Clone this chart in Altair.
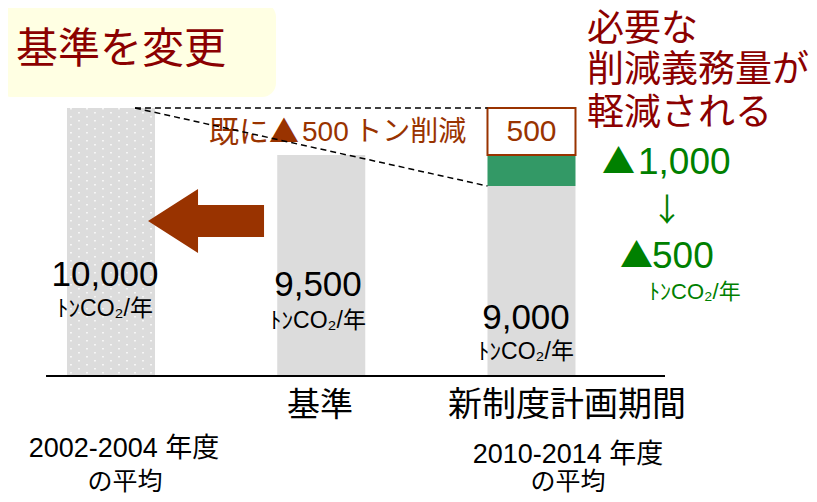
import altair as alt
import pandas as pd

# ---------------- data ----------------
categories = ["2002-2004 年度の平均", "基準", "新制度計画期間"]
cat_index = [0, 1, 2]
bar_values = [10000, 9500, 9000]
value_labels = ["10,000", "9,500", "9,000"]
unit_label = "ﾄﾝCO₂/年"
green_segment = [9000, 9500]     # 軽減される量
box_segment = [9500, 10000]      # 既に削減した量
box_label = "500"
cut_label = ["既に▲", "500\u2009トン削減"]
required_old = ["▲", "1,000"]
required_new = ["▲", "500"]
title_text = "基準を変更"
note_lines = ["必要な", "削減義務量が", "軽減される"]
bottom_labels = ["基準", "新制度計画期間"]
period_labels = ["2002-2004 年度", "2010-2014 年度"]
avg_label = "の平均"

# ---------------- style / layout ----------------
W, H = 801, 486
SANS = "Liberation Sans, Noto Sans CJK JP, sans-serif"
CJK = "Noto Sans CJK JP, sans-serif"
GRAY = "#DCDCDC"
BROWN = "#993300"
DARKRED = "#8B0000"
GREEN = "#008000"
HALF = 0.2093

xscale = alt.Scale(domain=[-0.4899, 3.3199], range=[0, W], nice=False, zero=False)
yscale = alt.Scale(domain=[0, 9000, 9500, 10000], range=[368, 178, 147, 100],
                   nice=False, zero=False)

def X(f):
    return alt.X(f, scale=xscale, axis=None)

def Y(f):
    return alt.Y(f, scale=yscale, axis=None)

def txt(s, x, y, size, color="black", align="center", font=SANS, weight="normal"):
    return alt.Chart(pd.DataFrame({"t": [s]})).mark_text(
        fontSize=size, color=color, align=align, baseline="middle",
        font=font, fontWeight=weight
    ).encode(x=alt.value(x), y=alt.value(y), text="t:N")

layers = []

# title box
layers.append(
    alt.Chart(pd.DataFrame({"a": [0]})).mark_rect(
        fill="#FFFFE3", cornerRadius=14
    ).encode(x=alt.value(-10), x2=alt.value(268), y=alt.value(-5), y2=alt.value(89))
)
layers.append(txt(title_text, 8, 42, 42, DARKRED, "left", CJK))

# bars
bars_df = pd.DataFrame({"idx": cat_index, "value": bar_values, "cat": categories})
layers.append(
    alt.Chart(bars_df).mark_bar(color=GRAY).transform_calculate(
        xl=f"datum.idx - {HALF}", xr=f"datum.idx + {HALF}", base="0"
    ).encode(x=X("xl:Q"), x2="xr:Q", y=Y("value:Q"), y2="base:Q")
)

# dotted texture on first bar
for k_off, cols in ((0, range(0, 11, 2)), (4, range(1, 11, 2))):
    dots_df = pd.DataFrame({"col": list(cols)})
    layers.append(
        alt.Chart(dots_df).mark_rule(
            color="white", strokeWidth=1.6, strokeDash=[1.6, 6.4],
            strokeDashOffset=k_off, opacity=0.9
        ).transform_calculate(
            xx=f"{cat_index[0]} - {HALF} + (datum.col + 0.5) * {2 * HALF / 11}",
            top=str(bar_values[0]), bot="0"
        ).encode(x=X("xx:Q"), y=Y("top:Q"), y2="bot:Q")
    )

# baseline
layers.append(
    alt.Chart(pd.DataFrame({"x0": [-0.309], "x1": [2.635], "y": [0]})).mark_rule(
        color="black", strokeWidth=2
    ).encode(x=X("x0:Q"), x2="x1:Q", y=Y("y:Q"))
)

# green segment and box on third bar
seg_df = pd.DataFrame({"idx": [cat_index[2]], "lo": [green_segment[0]], "hi": [green_segment[1]]})
layers.append(
    alt.Chart(seg_df).mark_bar(color="#339966").transform_calculate(
        xl=f"datum.idx - {HALF}", xr=f"datum.idx + {HALF}"
    ).encode(x=X("xl:Q"), x2="xr:Q", y=Y("hi:Q"), y2="lo:Q")
)
box_df = pd.DataFrame({"idx": [cat_index[2]], "lo": [box_segment[0]], "hi": [box_segment[1]],
                       "lab": [box_label]})
layers.append(
    alt.Chart(box_df).mark_bar(fill="white", stroke=BROWN, strokeWidth=2).transform_calculate(
        xl=f"datum.idx - {HALF}", xr=f"datum.idx + {HALF}"
    ).encode(x=X("xl:Q"), x2="xr:Q", y=Y("hi:Q"), y2="lo:Q")
)
layers.append(
    alt.Chart(box_df).mark_text(fontSize=30, color=BROWN, font=SANS, baseline="middle").transform_calculate(
        mid="(datum.lo + datum.hi) / 2"
    ).encode(x=X("idx:Q"), y=Y("mid:Q"), text="lab:N")
)

# cut text
layers.append(txt(cut_label[0], 201, 125, 30, BROWN, "left", CJK))
layers.append(txt(cut_label[1], 294, 125, 28, BROWN, "left", SANS))

# dashed guide lines
dash_df = pd.DataFrame({"x0": [0.114, 0.114], "y0": [bar_values[0], bar_values[0]],
                        "x1": [2 - HALF, 2 - HALF], "y1": [box_segment[1], bar_values[2]]})
layers.append(
    alt.Chart(dash_df).mark_rule(color="black", strokeWidth=1.5, strokeDash=[6, 4]).encode(
        x=X("x0:Q"), x2="x1:Q", y=Y("y0:Q"), y2="y1:Q"
    )
)

# big arrow
arrow_path = ("M -1 0 L -0.138 -0.552 L -0.138 -0.276 L 1 -0.276 L 1 0.276 "
              "L -0.138 0.276 L -0.138 0.552 Z")
layers.append(
    alt.Chart(pd.DataFrame({"a": [0.452]})).mark_point(
        shape=arrow_path, size=13456, filled=True, fill=BROWN, strokeWidth=0, opacity=1
    ).encode(x=X("a:Q"), y=alt.value(213))
)

# value labels
lab_pos = [(97, 267, 301), (310, 277, 313), (518, 310, 344)]
for lab, (lx, ly, uy) in zip(value_labels, lab_pos):
    layers.append(txt(lab, lx, ly, 35, "black"))
    layers.append(txt(unit_label, lx, uy, 23, "black"))

# note text
for line, ny in zip(note_lines, [22, 63, 106]):
    layers.append(txt(line, 579, ny, 37, DARKRED, "left", CJK))

layers.append(txt(required_old[0], 594, 155, 33, GREEN, "left", CJK))
layers.append(txt(required_old[1], 630, 155, 37, GREEN, "left"))
layers.append(txt("↓", 659, 203, 32, GREEN, "center", CJK))
layers.append(txt(required_new[0], 612, 249, 33, GREEN, "left", CJK))
layers.append(txt(required_new[1], 644, 249, 37, GREEN, "left"))
layers.append(txt(unit_label, 641, 284, 22, GREEN, "left"))

# bottom labels
layers.append(txt(bottom_labels[0], 312, 398, 33))
layers.append(txt(bottom_labels[1], 559, 398, 34))
layers.append(txt(period_labels[0], 116, 441, 27))
layers.append(txt(avg_label, 117, 474, 25))
layers.append(txt(period_labels[1], 560, 447, 27))
layers.append(txt(avg_label, 560, 474, 25))

chart = alt.layer(*layers).properties(
    width=W, height=H, autosize=alt.AutoSizeParams(type="none"), padding=0,
    background="white"
).configure_view(stroke=None)

chart.save("out.html", embed_options={"renderer": "svg", "actions": False})
